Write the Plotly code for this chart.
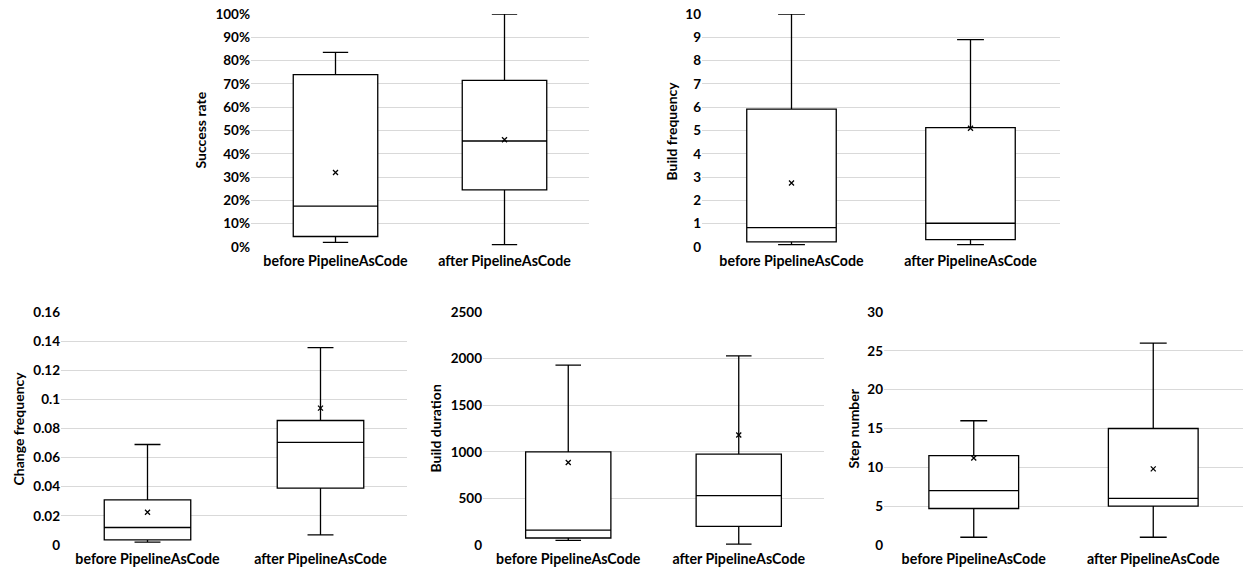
import plotly.graph_objects as go

categories = ["before PipelineAsCode", "after PipelineAsCode"]

# Success rate
sr_low = [0.02, 0.01]
sr_q1 = [0.045, 0.245]
sr_med = [0.175, 0.455]
sr_q3 = [0.74, 0.715]
sr_high = [0.835, 1.0]
sr_mean = [0.32, 0.46]

# Build frequency
bf_low = [0.1, 0.1]
bf_q1 = [0.22, 0.32]
bf_med = [0.83, 1.02]
bf_q3 = [5.92, 5.12]
bf_high = [10.0, 8.9]
bf_mean = [2.75, 5.1]

# Change frequency
cf_low = [0.002, 0.007]
cf_q1 = [0.0035, 0.039]
cf_med = [0.012, 0.0705]
cf_q3 = [0.031, 0.0855]
cf_high = [0.069, 0.1355]
cf_mean = [0.0225, 0.094]

# Build duration
bd_low = [50, 10]
bd_q1 = [75, 200]
bd_med = [160, 530]
bd_q3 = [1000, 975]
bd_high = [1930, 2030]
bd_mean = [885, 1180]

# Step number
sn_low = [1, 1]
sn_q1 = [4.7, 5]
sn_med = [7, 6]
sn_q3 = [11.5, 15]
sn_high = [16, 26]
sn_mean = [11.2, 9.8]

W, H = 1243, 569

panels = [
    dict(title="Success rate", low=sr_low, q1=sr_q1, med=sr_med, q3=sr_q3, high=sr_high, mean=sr_mean,
         px=(251, 589), py=(14, 247), tx=200, rng=[0, 1],
         tickvals=[i / 10 for i in range(11)], ticktext=[f"{i*10}%" for i in range(11)]),
    dict(title="Build frequency", low=bf_low, q1=bf_q1, med=bf_med, q3=bf_q3, high=bf_high, mean=bf_mean,
         px=(702, 1060), py=(14, 247), tx=671, rng=[0, 10],
         tickvals=list(range(11)), ticktext=[str(i) for i in range(11)]),
    dict(title="Change frequency", low=cf_low, q1=cf_q1, med=cf_med, q3=cf_q3, high=cf_high, mean=cf_mean,
         px=(61, 407), py=(312, 545), tx=18, rng=[0, 0.16],
         tickvals=[0, 0.02, 0.04, 0.06, 0.08, 0.1, 0.12, 0.14, 0.16],
         ticktext=["0", "0.02", "0.04", "0.06", "0.08", "0.1", "0.12", "0.14", "0.16"]),
    dict(title="Build duration", low=bd_low, q1=bd_q1, med=bd_med, q3=bd_q3, high=bd_high, mean=bd_mean,
         px=(483, 824), py=(312, 545), tx=435, rng=[0, 2500],
         tickvals=[0, 500, 1000, 1500, 2000, 2500], ticktext=["0", "500", "1000", "1500", "2000", "2500"]),
    dict(title="Step number", low=sn_low, q1=sn_q1, med=sn_med, q3=sn_q3, high=sn_high, mean=sn_mean,
         px=(884, 1243), py=(312, 545), tx=853, rng=[0, 30],
         tickvals=[0, 5, 10, 15, 20, 25, 30], ticktext=["0", "5", "10", "15", "20", "25", "30"]),
]

FONT = "Lato"
YTF = dict(family=FONT, size=13.5, color="black", weight="bold")
XTF = dict(family=FONT, size=14.2, color="black", weight="bold")
fig = go.Figure()
layout = dict(
    width=W, height=H, margin=dict(l=0, r=0, t=0, b=0, autoexpand=False),
    paper_bgcolor="white", plot_bgcolor="white", showlegend=False,
    font=dict(family=FONT, color="black"),
)
annotations = []

for i, p in enumerate(panels, start=1):
    xa = "x" if i == 1 else f"x{i}"
    ya = "y" if i == 1 else f"y{i}"
    fig.add_trace(go.Box(
        x=categories, q1=p["q1"], median=p["med"], q3=p["q3"],
        lowerfence=p["low"], upperfence=p["high"],
        fillcolor="white", line=dict(color="black", width=1.3),
        whiskerwidth=0.3, width=0.5, boxpoints=False, hoverinfo="y",
        xaxis=xa, yaxis=ya,
    ))
    fig.add_trace(go.Scatter(
        x=categories, y=p["mean"], mode="markers",
        marker=dict(symbol="x-thin", size=5, line=dict(color="black", width=1.3), color="black"),
        xaxis=xa, yaxis=ya, hoverinfo="y",
    ))
    xd = [p["px"][0] / W, min(p["px"][1] / W, 1.0)]
    yd = [1 - p["py"][1] / H, 1 - p["py"][0] / H]
    xkey = "xaxis" if i == 1 else f"xaxis{i}"
    ykey = "yaxis" if i == 1 else f"yaxis{i}"
    layout[xkey] = dict(
        domain=xd, anchor=ya, type="category", categoryorder="array", categoryarray=categories,
        range=[-0.5, 1.5], showgrid=False, showline=False, zeroline=False, ticks="",
        automargin=False, tickfont=XTF, ticklabelstandoff=4,
    )
    layout[ykey] = dict(
        domain=yd, anchor=xa, range=p["rng"], tickvals=p["tickvals"], ticktext=p["ticktext"],
        showgrid=True, gridcolor="#d9d9d9", gridwidth=1, zeroline=False, showline=False, ticks="",
        automargin=False, tickfont=YTF,
    )
    annotations.append(dict(
        text=p["title"], textangle=-90, xref="paper", yref="paper",
        x=p["tx"] / W, y=1 - (p["py"][0] + p["py"][1]) / 2 / H,
        xanchor="center", yanchor="middle", showarrow=False,
        font=dict(family=FONT, size=14, color="black", weight="bold"),
    ))

layout["annotations"] = annotations
fig.update_layout(**layout)
fig.write_html(
    "out.html",
    config={"displayModeBar": False},
    post_script="document.body.style.margin='0';document.body.style.overflow='hidden';",
)
